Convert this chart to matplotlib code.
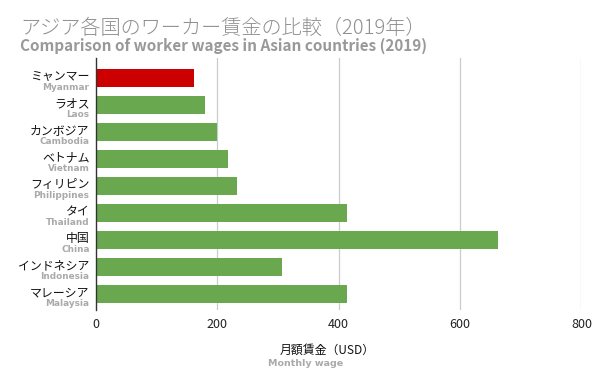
import matplotlib
matplotlib.use("Agg")
import matplotlib.pyplot as plt
from matplotlib.transforms import blended_transform_factory

plt.rcParams['font.family'] = ['Noto Sans CJK JP', 'DejaVu Sans']

countries_ja = ["ミャンマー", "ラオス", "カンボジア", "ベトナム", "フィリピン", "タイ", "中国", "インドネシア", "マレーシア"]
countries_en = ["Myanmar", "Laos", "Cambodia", "Vietnam", "Philippines", "Thailand", "China", "Indonesia", "Malaysia"]
wages = [162, 180, 200, 217, 233, 413, 662, 307, 413]
highlight = "Myanmar"
xticks = [0, 200, 400, 600, 800]

title_ja = "アジア各国のワーカー賃金の比較（2019年）"
title_en = "Comparison of worker wages in Asian countries (2019)"
xlabel_ja = "月額賃金（USD）"
xlabel_en = "Monthly wage"

RED = "#cc0000"
GREEN = "#6aa84f"
EN_FONT = ['DejaVu Sans']

fig = plt.figure(figsize=(6, 3.71), dpi=100)
ax = fig.add_axes([0.16, 0.1644, 0.969 - 0.16, 0.8437 - 0.1644])

ypos = list(range(len(countries_en)))
colors = [RED if c == highlight else GREEN for c in countries_en]
ax.barh(ypos, wages, height=0.65, color=colors, zorder=3)

ax.set_xlim(0, 800)
ax.set_ylim(8.6, -0.74)
ax.set_xticks(xticks)
ax.set_xticklabels([str(t) for t in xticks], fontsize=9, color="#222222")
ax.tick_params(axis='x', length=0, pad=6)
ax.set_yticks([])
for v in xticks[1:]:
    ax.axvline(v, color="#cccccc", lw=0.9, zorder=1)
for s in ["top", "right", "bottom"]:
    ax.spines[s].set_visible(False)
ax.spines["left"].set_color("#333333")
ax.spines["left"].set_linewidth(1.0)
ax.spines["left"].set_zorder(4)

trans = blended_transform_factory(fig.transFigure, ax.transData)
for i, (ja, en) in enumerate(zip(countries_ja, countries_en)):
    ax.text(89.5 / 600, i - 0.05, ja, transform=trans, ha='right', va='center',
            fontsize=8.6, color="#111111")
    ax.text(89.5 / 600, i + 0.36, en, transform=trans, ha='right', va='center',
            fontsize=6.4, color="#aaaaaa", fontweight='bold', family=EN_FONT)

fig.text(20 / 600, 1 - 28 / 371, title_ja, ha='left', va='center', fontsize=14.5,
         color="#8f8f8f", fontweight='light')
fig.text(20 / 600, 1 - 46 / 371, title_en, ha='left', va='center', fontsize=11,
         color="#999999", fontweight='bold')
fig.text(327 / 600, 1 - 350 / 371, xlabel_ja, ha='center', va='center', fontsize=8.6,
         color="#111111")
fig.text(305.5 / 600, 1 - 363 / 371, xlabel_en, ha='center', va='center', fontsize=6.8,
         color="#aaaaaa", fontweight='bold', family=EN_FONT)

fig.savefig("out.png", dpi=100)
